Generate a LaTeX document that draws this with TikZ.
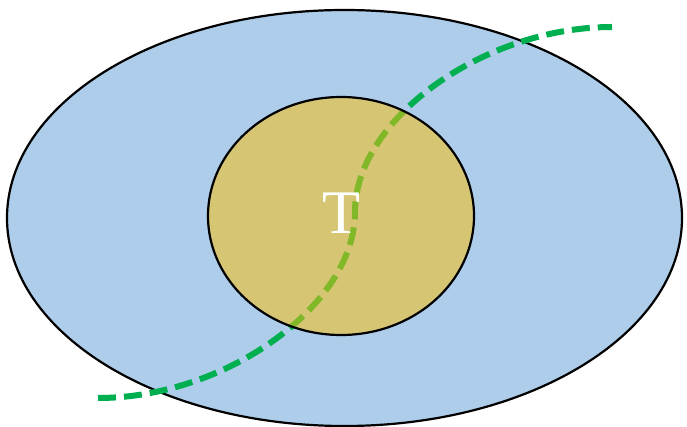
\documentclass[tikz,border=0pt]{standalone}
\usepackage{fontspec}
\newfontfamily\tfont{Liberation Serif}
\definecolor{outerblue}{HTML}{ADCDEA}
\definecolor{innergold}{HTML}{FFC000}
\definecolor{curvegreen}{HTML}{00B050}
\begin{document}
\begin{tikzpicture}[x=1pt,y=-1pt,
  region/.style={draw=black,line width=2.2pt},
  path3/.style={draw=curvegreen,line width=6pt,dash pattern=on 18pt off 8pt}]
\useasboundingbox (0,0) rectangle (687,427);
\path[region,fill=outerblue] (344.5,218) ellipse [x radius=337.5,y radius=208];
\coordinate (s) at (98,398);
\coordinate (m) at (355,212);
\coordinate (e) at (612,27);
\draw[path3] (s) .. controls (226,398) and (355,305) .. (m)
                 .. controls (355,119) and (484,27) .. (e);
\path[region,fill=innergold,fill opacity=0.5] (341,216) ellipse [x radius=133,y radius=119];
\node[text=white,font=\tfont\fontsize{62}{62}\selectfont,inner sep=0] (t) at (341,213) {T};
\end{tikzpicture}
\end{document}
